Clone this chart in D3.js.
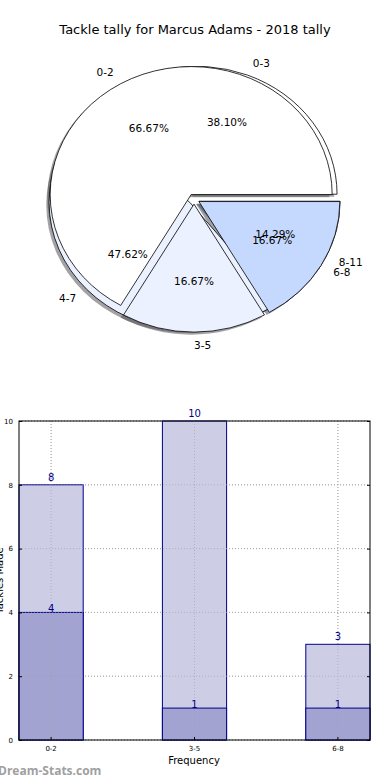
<!DOCTYPE html>
<html>
<head>
<meta charset="utf-8">
<script src="https://cdn.jsdelivr.net/npm/d3@7"></script>
<style>
  body { margin: 0; background: #fff; }
  svg { display: block; font-family: "DejaVu Sans", sans-serif; }
</style>
</head>
<body>
<div id="chart"></div>
<script>
// data
const title = "Tackle tally for Marcus Adams - 2018 tally";
const backLabels = ["0-3", "4-7", "8-11"];
const backValues = [8, 10, 3];
const frontLabels = ["0-2", "3-5", "6-8"];
const frontValues = [4, 1, 1];
const barCategories = ["0-2", "3-5", "6-8"];
const upperValues = [8, 10, 3];
const lowerValues = [4, 1, 1];
const yTicks = [0, 2, 4, 6, 8, 10];

const W = 390, H = 780;
const svg = d3.select("#chart").append("svg")
    .attr("width", W).attr("height", H);

svg.append("text")
    .attr("x", 195).attr("y", 34)
    .attr("text-anchor", "middle")
    .attr("font-size", 13)
    .text(title);

// ---- pie (two pies drawn on top of each other, matplotlib style) ----
const cx = 194, cy = 199, rx = 141, ry = 128;
const explode = 0.04;
const colors = ["#ffffff", "#ebf1ff", "#c5d9ff"];

// matplotlib angles: counter-clockwise from 3 o'clock
function slices(values) {
    const total = d3.sum(values);
    let a = 0;
    return values.map((v, i) => {
        const t0 = a, t1 = a + v / total * 2 * Math.PI;
        a = t1;
        return { i, v, frac: v / total, t0, t1, tm: (t0 + t1) / 2 };
    });
}

const arc = d3.arc().innerRadius(0).outerRadius(1);
const pieG = svg.append("g").attr("transform", `translate(${cx},${cy}) scale(${rx},${ry})`);
const shadowG = pieG.append("g");
const wedgeG = pieG.append("g");

const pies = [
    { data: slices(backValues), labels: backLabels },
    { data: slices(frontValues), labels: frontLabels }
];

pies.forEach(p => {
    p.data.forEach(d => {
        const dx = explode * Math.cos(d.tm), dy = -explode * Math.sin(d.tm);
        const path = arc({ startAngle: Math.PI / 2 - d.t0, endAngle: Math.PI / 2 - d.t1 });
        const c = d3.rgb(colors[d.i]);
        shadowG.append("path")
            .attr("d", path)
            .attr("transform", `translate(${dx - 0.02},${dy + 0.02})`)
            .attr("fill", d3.rgb(c.r * 0.3, c.g * 0.3, c.b * 0.3))
            .attr("fill-opacity", 0.5);
        wedgeG.append("path")
            .attr("d", path)
            .attr("transform", `translate(${dx},${dy})`)
            .attr("fill", colors[d.i])
            .attr("stroke", "#000")
            .attr("stroke-width", 0.8)
            .attr("vector-effect", "non-scaling-stroke");
    });
});

pies.forEach(p => {
    p.data.forEach(d => {
        const c = Math.cos(d.tm), s = Math.sin(d.tm);
        const lx = cx + rx * (explode + 1.1) * c, ly = cy - ry * (explode + 1.1) * s;
        svg.append("text")
            .attr("x", lx).attr("y", ly)
            .attr("dy", "0.35em")
            .attr("text-anchor", c > -1e-9 ? "start" : "end")
            .attr("font-size", 10.5)
            .text(p.labels[d.i]);
        svg.append("text")
            .attr("x", cx + rx * (explode + 0.6) * c)
            .attr("y", cy - ry * (explode + 0.6) * s)
            .attr("dy", "0.35em")
            .attr("text-anchor", "middle")
            .attr("font-size", 10.5)
            .text((d.frac * 100).toFixed(2) + "%");
    });
});

// ---- bar chart ----
const pLeft = 19, pRight = 370, pTop = 421, pBottom = 740;
const x = d3.scaleBand().domain(barCategories).range([pLeft, pRight])
    .paddingInner(0.5524).paddingOuter(0);
const y = d3.scaleLinear().domain([0, 10]).range([pBottom, pTop]);

const grid = svg.append("g")
    .attr("stroke", "#b0b0b0").attr("stroke-dasharray", "1,2").attr("stroke-width", 1);
yTicks.forEach(t => grid.append("line")
    .attr("x1", pLeft).attr("x2", pRight).attr("y1", y(t)).attr("y2", y(t)));
barCategories.forEach(c => grid.append("line")
    .attr("x1", x(c) + x.bandwidth() / 2).attr("x2", x(c) + x.bandwidth() / 2)
    .attr("y1", pTop).attr("y2", pBottom));

function drawBars(vals, fill, cls) {
    svg.selectAll("." + cls).data(vals).enter().append("rect")
        .attr("class", cls)
        .attr("x", (d, i) => x(barCategories[i]))
        .attr("y", d => y(d))
        .attr("width", x.bandwidth())
        .attr("height", d => pBottom - y(d))
        .attr("fill", fill)
        .attr("stroke", "#00008b").attr("stroke-width", 1);
}
drawBars(upperValues, "#cdcde6", "upper");
drawBars(lowerValues, "#a3a3d1", "lower");

// dotted grid shows over the bars too
const grid2 = svg.append("g")
    .attr("stroke", "#a0a0a0").attr("stroke-dasharray", "1,2").attr("stroke-width", 1).attr("opacity", 0.6);
barCategories.forEach(c => grid2.append("line")
    .attr("x1", x(c) + x.bandwidth() / 2).attr("x2", x(c) + x.bandwidth() / 2)
    .attr("y1", pTop).attr("y2", pBottom));
yTicks.forEach(t => grid2.append("line")
    .attr("x1", pLeft).attr("x2", pRight).attr("y1", y(t)).attr("y2", y(t)));

function valueLabels(vals, off, cls) {
    svg.selectAll("." + cls).data(vals).enter().append("text")
        .attr("class", cls)
        .attr("x", (d, i) => x(barCategories[i]) + x.bandwidth() / 2)
        .attr("y", d => y(d) - off)
        .attr("text-anchor", "middle")
        .attr("font-size", 10)
        .attr("fill", "#00008b")
        .text(d => d);
}
valueLabels(upperValues, 4, "ulab");
valueLabels(lowerValues, 0, "llab");

svg.append("rect")
    .attr("x", pLeft).attr("y", pTop)
    .attr("width", pRight - pLeft).attr("height", pBottom - pTop)
    .attr("fill", "none").attr("stroke", "#000").attr("stroke-width", 1);

const yAxis = svg.append("g")
    .attr("transform", `translate(${pLeft},0)`)
    .call(d3.axisLeft(y).tickValues(yTicks).tickSize(-3).tickPadding(6));
const yAxisR = svg.append("g")
    .attr("transform", `translate(${pRight},0)`)
    .call(d3.axisRight(y).tickValues(yTicks).tickSize(-3).tickFormat(""));
const xAxis = svg.append("g")
    .attr("transform", `translate(0,${pBottom})`)
    .call(d3.axisBottom(x).tickSize(-3).tickPadding(6));
[yAxis, yAxisR, xAxis].forEach(g => {
    g.select(".domain").remove();
    g.selectAll("text").attr("font-size", 7).attr("font-family", "DejaVu Sans");
});

svg.append("text")
    .attr("x", 194).attr("y", 764)
    .attr("text-anchor", "middle")
    .attr("font-size", 10)
    .text("Frequency");

svg.append("text")
    .attr("transform", `translate(3,${(pTop + pBottom) / 2}) rotate(-90)`)
    .attr("text-anchor", "middle")
    .attr("font-size", 10)
    .text("Tackles Made");

svg.append("text")
    .attr("x", -2).attr("y", 775)
    .attr("font-family", "Open Sans, sans-serif")
    .attr("font-weight", "bold")
    .attr("font-size", 12)
    .attr("fill", "#a0a0a0")
    .text("Dream-Stats.com");
</script>
</body>
</html>
